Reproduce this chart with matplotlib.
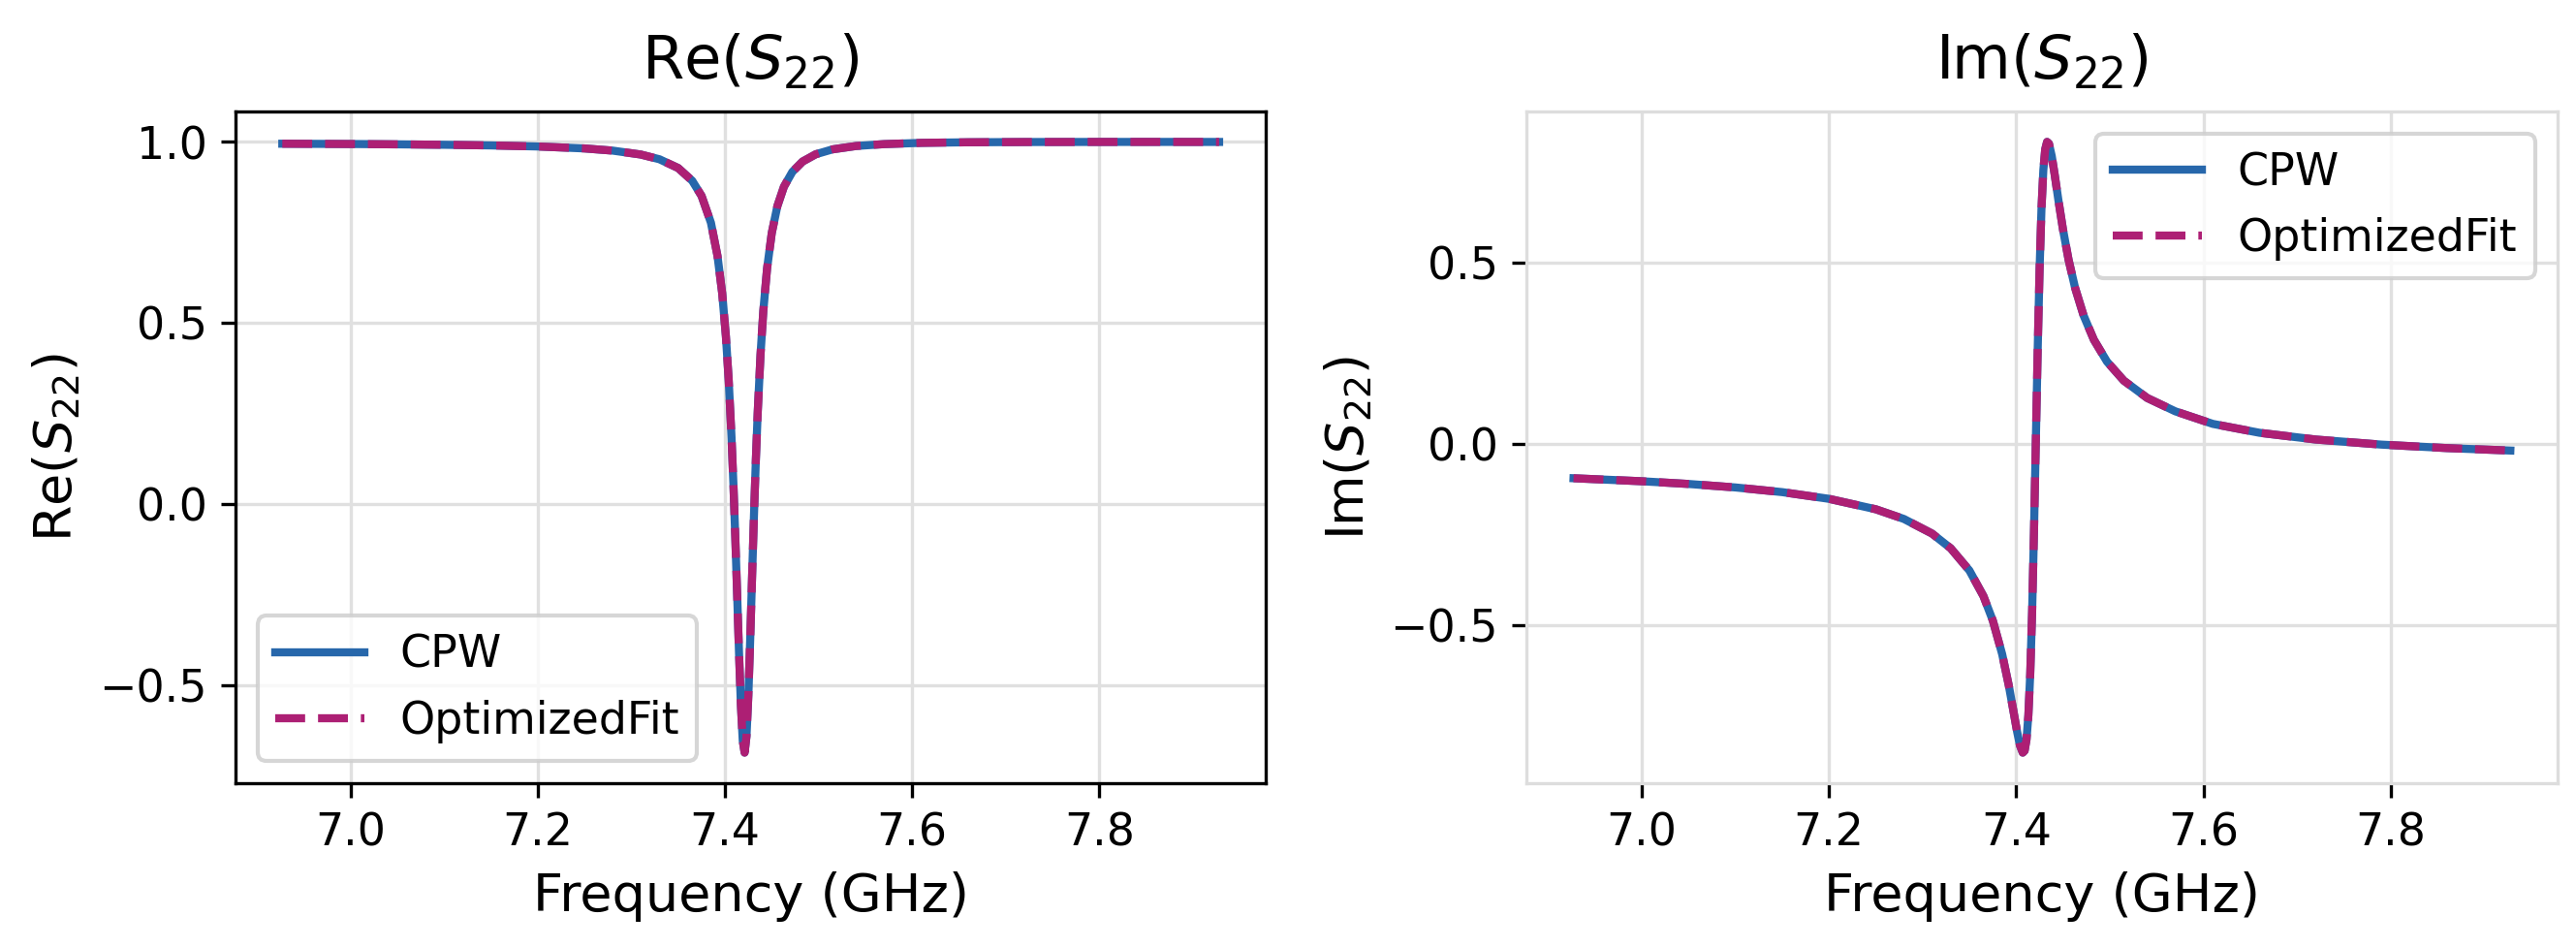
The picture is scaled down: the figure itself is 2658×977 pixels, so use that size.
import matplotlib
matplotlib.use("Agg")
import matplotlib.pyplot as plt

# frequency points (GHz), denser around the resonance
freq = [6.927, 7.0, 7.05, 7.1, 7.15, 7.2, 7.25, 7.28, 7.31, 7.33,
        7.35, 7.365, 7.375, 7.385, 7.392, 7.397, 7.401, 7.404, 7.407, 7.409,
        7.411, 7.413, 7.415, 7.417, 7.419, 7.421, 7.423, 7.425, 7.427, 7.429,
        7.431, 7.433, 7.435, 7.438, 7.441, 7.445, 7.45, 7.456, 7.463, 7.472,
        7.483, 7.497, 7.515, 7.54, 7.57, 7.61, 7.66, 7.72, 7.79, 7.86, 7.928]

re_s22 = [0.9951, 0.9943, 0.9934, 0.9922, 0.9904, 0.9875, 0.9821, 0.9761, 0.9653, 0.9522,
          0.9280, 0.8929, 0.8510, 0.7770, 0.6857, 0.5830, 0.4634, 0.3420, 0.1849, 0.0573,
          -0.0884, -0.2475, -0.4089, -0.5529, -0.6533, -0.6860, -0.6407, -0.5275, -0.3710, -0.1984,
          -0.0304, 0.1216, 0.2533, 0.4130, 0.5340, 0.6507, 0.7485, 0.8229, 0.8765, 0.9174,
          0.9460, 0.9660, 0.9796, 0.9888, 0.9940, 0.9975, 0.9991, 0.9998, 1.0000, 1.0001, 1.0000]

im_s22 = [-0.0942, -0.1025, -0.1100, -0.1196, -0.1325, -0.1510, -0.1798, -0.2065, -0.2467, -0.2874,
          -0.3487, -0.4194, -0.4867, -0.5795, -0.6649, -0.7359, -0.7938, -0.8310, -0.8511, -0.8458,
          -0.8152, -0.7484, -0.6336, -0.4637, -0.2418, 0.0118, 0.2647, 0.4838, 0.6487, 0.7559,
          0.8133, 0.8336, 0.8288, 0.7945, 0.7453, 0.6745, 0.5918, 0.5081, 0.4303, 0.3548,
          0.2877, 0.2275, 0.1750, 0.1272, 0.0904, 0.0558, 0.0312, 0.0126, -0.0014, -0.0110, -0.0178]

blue = "#2767ab"
magenta = "#ad1f74"

fig, (ax1, ax2) = plt.subplots(1, 2, figsize=(8.86, 3.257), dpi=300)
fig.subplots_adjust(left=0.0914, right=0.9927, bottom=0.173, top=0.8823, wspace=0.253)

for ax, y, name in [(ax1, re_s22, "Re"), (ax2, im_s22, "Im")]:
    ax.plot(freq, y, color=blue, lw=2, label="CPW")
    ax.plot(freq, y, color=magenta, lw=2, ls="--", label="OptimizedFit")
    ax.set_title(name + r"$(S_{22})$", fontsize=15, pad=8)
    ax.set_xlabel("Frequency (GHz)", fontsize=13)
    ax.set_ylabel(name + r"$(S_{22})$", fontsize=13)
    ax.set_xticks([7.0, 7.2, 7.4, 7.6, 7.8])
    ax.set_yticks([-0.5, 0.0, 0.5] + ([1.0] if name == "Re" else []))
    ax.tick_params(labelsize=11)
    ax.grid(True, color="#e0e0e0", lw=0.8)
    ax.set_axisbelow(True)

for sp in ax2.spines.values():
    sp.set_color("#dddddd")

ax1.legend(loc="lower left", fontsize=11)
ax2.legend(loc="upper right", fontsize=11)

fig.savefig("out.png", dpi=300)
